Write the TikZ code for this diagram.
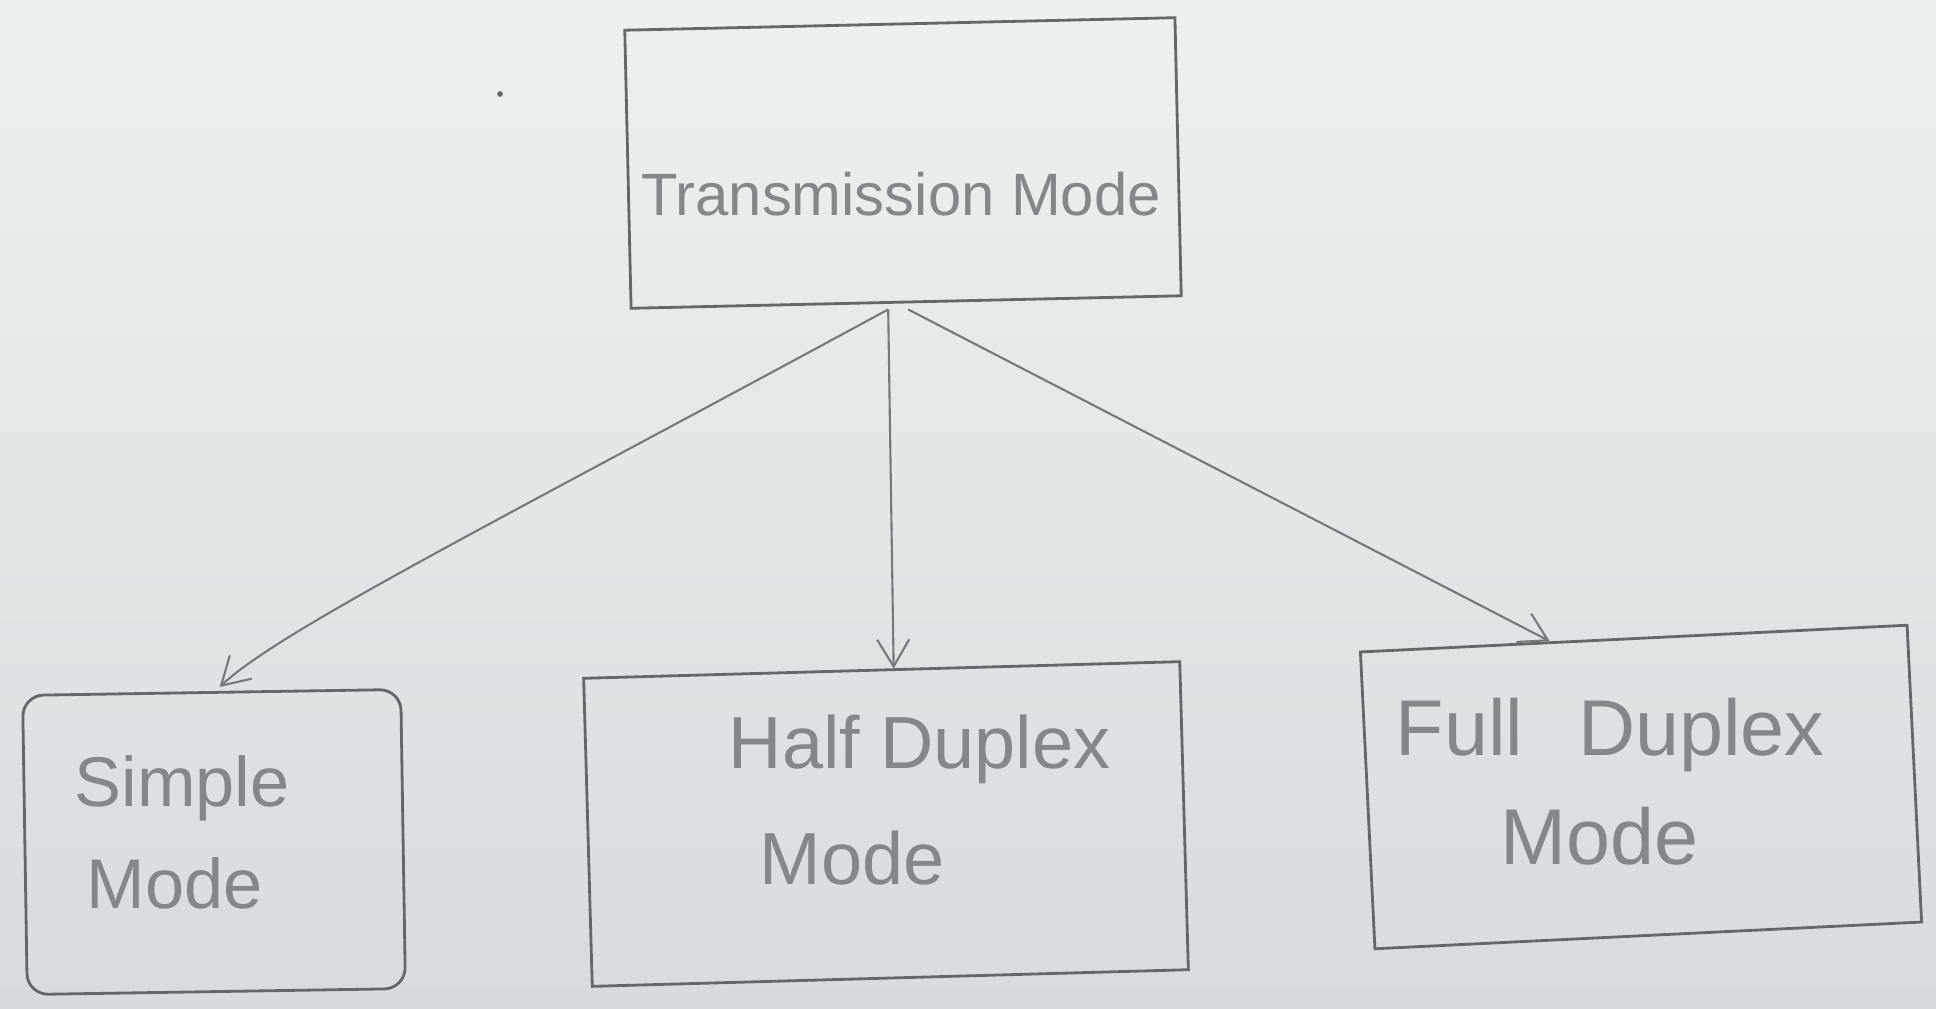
\documentclass[tikz,border=0pt]{standalone}
\usepackage{fontspec}
\setmainfont{Liberation Sans}
\usetikzlibrary{arrows.meta,calc}
\definecolor{paperTop}{RGB}{236,240,240}
\definecolor{paperBot}{RGB}{214,220,222}
\definecolor{pencil}{RGB}{100,103,106}
\definecolor{pencilLight}{RGB}{118,121,124}
\definecolor{ink}{RGB}{132,135,138}
\begin{document}
\begin{tikzpicture}[x=0.01cm,y=-0.01cm,
  boxst/.style={draw=pencil, line width=0.8pt, inner sep=0pt, rectangle},
  lbl/.style={text=ink, align=left, inner sep=0pt},
  conn/.style={draw=pencilLight, line width=0.6pt, -{Straight Barb[length=2.7mm,width=3.2mm]}}]
\useasboundingbox (0,0) rectangle (1936,1009);
\shade[top color=paperTop,bottom color=paperBot] (0,0) rectangle (1936,1009);

% boxes
\node[boxst, minimum width=5.50cm, minimum height=2.78cm, rotate=1.3] (tm) at (903,163) {};
\node[boxst, rounded corners=6pt, minimum width=3.78cm, minimum height=2.99cm, rotate=0.9] (sm) at (214,842) {};
\node[boxst, minimum width=5.96cm, minimum height=3.08cm, rotate=1.6] (hd) at (886,824) {};
\node[boxst, minimum width=5.47cm, minimum height=2.97cm, rotate=2.8] (fd) at (1641,787) {};

% labels
\node[lbl, font=\fontsize{17}{20}\selectfont] (tmt) at (901,194) {Transmission Mode};
\node[lbl, anchor=west, font=\fontsize{20}{29}\selectfont] (smt) at (74,832) {Simple\\\hspace*{0.12cm}Mode};
\node[lbl, anchor=west, font=\fontsize{21}{33}\selectfont] (hdt) at (728,800) {Half Duplex\\\hspace*{0.31cm}Mode};
\node[lbl, anchor=west, font=\fontsize{22.5}{31}\selectfont] (fdt) at (1395,782) {Full\hspace{0.55cm}Duplex\\\hspace*{1.05cm}Mode};

% connectors
\draw[conn] ($(tm.south)+(-18,6)$) .. controls (500,520) and (280,630) .. ($(sm.north)+(8,-4)$);
\draw[conn] ($(tm.south)+(-18,6)$) -- ($(hd.north)+(12,0)$);
\draw[conn] ($(tm.south)+(2,6)$) -- ($(fd.north)+(-84,4)$);

% stray pencil mark
\fill[pencil] (500,94) circle[radius=0.8pt];
\end{tikzpicture}
\end{document}
